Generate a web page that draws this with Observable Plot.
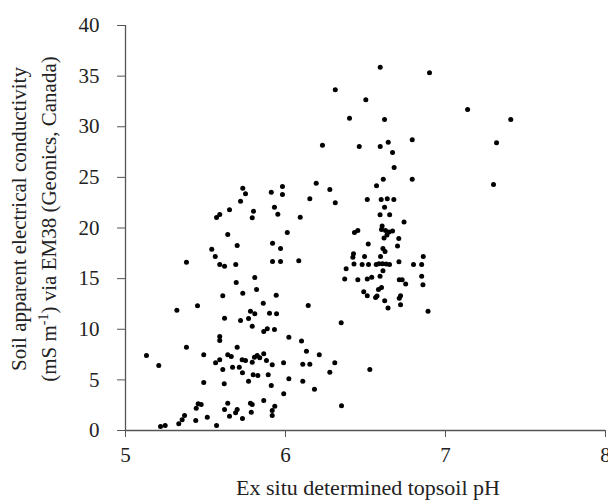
<!DOCTYPE html>
<html>
<head>
<meta charset="utf-8">
<script src="https://cdn.jsdelivr.net/npm/d3@7"></script>
<script src="https://cdn.jsdelivr.net/npm/@observablehq/plot@0.6"></script>
<style>
  html, body { margin: 0; padding: 0; background: white; }
  svg { overflow: visible; }
  svg text { font-family: 'Liberation Serif', 'Times New Roman', serif; }
</style>
</head>
<body>
<div id="chart"></div>
<script>
// Ex situ topsoil pH
const ph = [
6.592,6.900,6.311,6.502,6.400,6.619,6.231,6.461,6.592,6.642,6.792,6.669,6.679,6.611,6.792,6.192,
7.138,7.408,7.319,7.300,
5.733,5.750,5.911,5.981,5.981,5.719,5.650,5.589,5.569,5.800,5.792,5.931,5.952,5.639,6.011,5.698,
5.539,5.561,5.381,5.589,5.619,5.689,5.919,5.969,5.919,5.969,5.808,5.692,5.819,5.608,5.733,5.942,
5.861,5.450,5.321,5.781,5.808,5.900,5.944,5.619,5.719,5.769,5.792,5.886,5.931,
5.864,5.589,5.589,6.021,5.131,5.208,5.381,5.489,5.563,5.589,5.639,5.661,5.698,5.608,5.669,5.711,
5.729,5.750,5.731,5.792,5.806,5.823,5.839,5.864,5.881,5.917,5.798,5.827,5.892,5.769,5.911,5.988,
6.021,5.989,5.489,5.617,5.454,5.473,5.442,5.439,5.511,5.639,5.619,5.698,5.688,5.650,5.731,5.781,
5.792,5.786,5.864,5.933,5.917,5.917,5.369,5.354,5.333,5.569,5.219,5.248,
6.277,6.569,6.152,6.311,6.511,6.598,6.636,6.677,6.619,6.591,6.651,6.741,6.092,6.431,6.452,6.604,
6.600,6.625,6.647,6.669,6.634,6.616,6.708,6.517,6.700,6.609,6.622,6.425,6.421,6.494,6.594,6.861,
6.083,6.428,6.479,6.519,6.567,6.584,6.606,6.629,6.650,6.709,6.800,6.851,6.379,6.609,6.370,6.452,
6.511,6.539,6.591,6.851,6.711,6.729,6.751,6.859,6.600,6.581,6.572,6.563,6.489,6.511,6.620,6.719,
6.711,6.641,6.719,6.891,6.142,6.348,
6.100,6.131,6.211,6.108,6.152,6.308,6.277,6.527,6.108,6.181,6.350
];
// Soil apparent electrical conductivity (mS m-1)
const ec = [
35.88,35.33,33.65,32.66,30.84,30.72,28.18,28.05,28.05,28.47,28.71,27.46,25.98,24.82,24.82,24.42,
31.70,30.72,28.41,24.30,
23.93,23.38,23.54,24.10,23.31,22.65,21.80,21.33,21.04,21.66,21.01,22.05,21.36,19.36,19.56,18.27,
17.91,17.19,16.62,16.40,16.23,16.40,18.50,17.98,16.69,16.69,15.11,14.62,13.93,13.30,13.56,13.36,
12.57,12.32,11.88,11.78,11.53,11.59,11.53,11.09,10.86,11.06,10.30,10.04,9.98,
9.78,9.28,8.89,9.21,7.41,6.42,8.23,7.48,6.69,6.98,7.48,7.31,8.23,6.02,6.25,6.25,
6.98,6.91,5.70,6.75,7.24,7.41,7.18,7.58,6.91,6.49,5.50,5.43,5.50,4.87,4.44,6.69,
5.11,3.62,4.74,4.61,2.64,2.57,2.20,0.99,1.31,2.70,2.07,2.07,1.75,1.41,1.19,2.70,
2.57,1.81,2.96,2.40,1.98,1.48,1.48,1.06,0.66,0.49,0.40,0.49,
23.80,24.17,22.88,22.49,22.81,22.81,22.88,22.81,22.05,21.30,21.30,20.59,21.07,19.56,19.75,20.20,
19.85,19.75,19.60,19.70,19.31,19.01,18.96,18.42,18.22,17.98,17.68,17.45,17.12,17.19,17.19,17.19,
16.76,16.44,16.40,16.40,16.40,16.46,16.46,16.44,16.40,16.67,16.40,16.40,15.97,15.77,14.96,14.88,
14.96,15.14,15.23,15.24,14.89,14.89,14.47,14.40,14.12,13.93,13.28,13.14,13.70,13.30,12.81,13.31,
13.06,12.10,12.42,11.78,12.35,10.64,
8.84,7.83,7.48,6.55,6.55,6.69,5.76,6.02,4.87,4.08,2.44
];
const xTicks = [5, 6, 7, 8];
const yTicks = [0, 5, 10, 15, 20, 25, 30, 35, 40];
const xTitle = "Ex situ determined topsoil pH";
const yTitle1 = "Soil apparent electrical conductivity";
const yTitle2a = "(mS m";
const yTitle2sup = "-1";
const yTitle2b = ") via EM38 (Geonics, Canada)";

const points = ph.map((p, i) => ({ph: p, ec: ec[i]}));

const W = 608, H = 504;
const mL = 125, mR = 3, mT = 25, mB = 74;
const font = "Liberation Serif, Times New Roman, serif";
const axisColor = "#555";
const textColor = "#222";
const fs = 21;

const chart = Plot.plot({
  width: W,
  height: H,
  marginLeft: mL,
  marginRight: mR,
  marginTop: mT,
  marginBottom: mB,
  style: {fontFamily: font, fontSize: fs + "px", color: textColor, background: "white", overflow: "visible"},
  x: {domain: [5, 8], ticks: xTicks},
  y: {domain: [0, 40], ticks: yTicks},
  marks: [
    Plot.axisX({ticks: xTicks, tickFormat: d => String(d), tickSize: 7, tickPadding: 10, stroke: axisColor, fill: textColor, label: null, fontSize: fs, fontFamily: font}),
    Plot.axisY({ticks: yTicks, tickFormat: d => String(d), tickSize: 8, tickPadding: 18, stroke: axisColor, fill: textColor, label: null, fontSize: fs, fontFamily: font}),
    Plot.ruleX([5], {stroke: axisColor, strokeWidth: 1.3}),
    Plot.ruleY([0], {stroke: axisColor, strokeWidth: 1.3}),
    Plot.dot(points, {x: "ph", y: "ec", r: 2.5, fill: "black", stroke: "none"})
  ]
});

document.getElementById("chart").appendChild(chart);

const svg = d3.select(chart);
const cx = (mL + (W - mR)) / 2 + 3;
svg.append("text")
  .attr("x", cx).attr("y", 495)
  .attr("text-anchor", "middle")
  .attr("font-family", font).attr("font-size", fs + 1).attr("fill", textColor)
  .text(xTitle);

const cy = 219;
const g = svg.append("g").attr("transform", `translate(0,${cy}) rotate(-90)`)
  .attr("font-family", font).attr("font-size", fs).attr("fill", textColor)
  .attr("text-anchor", "middle");
g.append("text").attr("x", 0).attr("y", 26).text(yTitle1);
const t2 = g.append("text").attr("x", 0).attr("y", 56);
t2.append("tspan").text(yTitle2a);
t2.append("tspan").attr("font-size", 14).attr("dy", -8).text(yTitle2sup);
t2.append("tspan").attr("dy", 8).text(yTitle2b);
</script>
</body>
</html>
